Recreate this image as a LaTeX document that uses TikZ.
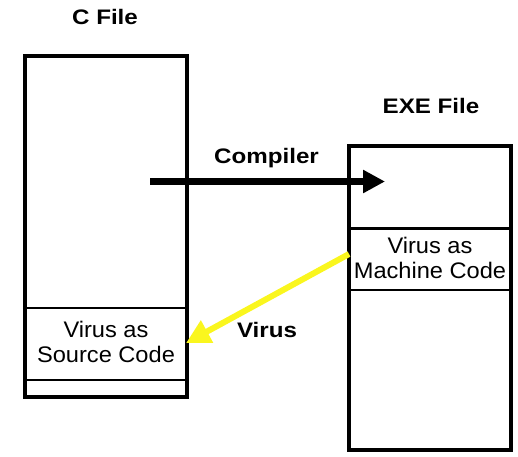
\documentclass[tikz,border=0pt]{standalone}
\usepackage{fontspec}
\setmainfont{Liberation Sans}[FakeStretch=1.05]
\newfontfamily\lblfont{Liberation Sans}[FakeStretch=1.15]
\usetikzlibrary{arrows.meta}
\definecolor{virusyellow}{RGB}{250,246,30}
\begin{document}
\begin{tikzpicture}[x=1pt,y=-1pt,
  filebox/.style={draw,line width=4pt,inner sep=0pt,outer sep=0pt,anchor=north west},
  divider/.style={line width=2.6pt},
  title/.style={font=\lblfont\bfseries\fontsize{21}{24}\selectfont,anchor=base,inner sep=0pt},
  content/.style={font=\fontsize{22.5}{25}\selectfont,align=center,anchor=base,inner sep=0pt},
  compilearrow/.style={line width=7pt,-{Triangle[length=22pt,width=22pt]}},
  virusarrow/.style={virusyellow,line width=6pt,-{Triangle[length=24pt,width=24pt]}}]
\useasboundingbox (0,0) rectangle (518,456);
% boxes
\node[filebox,minimum width=162pt,minimum height=341pt] (cfile) at (25,56) {};
\node[filebox,minimum width=162pt,minimum height=304pt] (exefile) at (349,146) {};
% dividers
\draw[divider] (25,308) -- (187,308);
\draw[divider] (25,380) -- (187,380);
\draw[divider] (349,228.5) -- (511,228.5);
\draw[divider] (349,290) -- (511,290);
% titles
\node[title] (ctitle) at (105,24) {C File};
\node[title] (exetitle) at (431,113) {EXE File};
\node[title] (complbl) at (266.5,163) {Compiler};
\node[title] (viruslbl) at (267,337) {Virus};
% contents (base anchor = baseline of last line)
\node[content] (srccode) at (106,362) {Virus as\\Source Code};
\node[content] (machcode) at (430,278) {Virus as\\Machine Code};
% arrows
\coordinate (compstart) at (150,181.5);
\coordinate (compend) at (385,181.5);
\coordinate (virstart) at (349,254);
\coordinate (virend) at (186,343);
\draw[compilearrow] (compstart) -- (compend);
\draw[virusarrow] (virstart) -- (virend);
\end{tikzpicture}
\end{document}
